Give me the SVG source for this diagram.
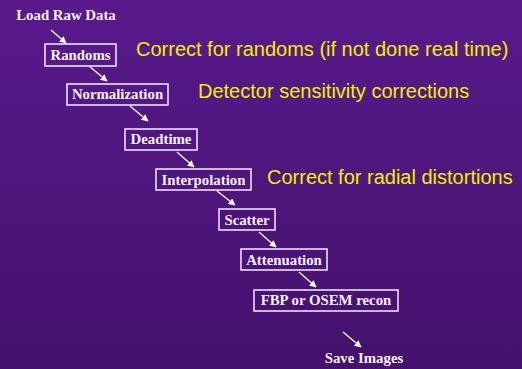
<svg xmlns="http://www.w3.org/2000/svg" width="522" height="369" viewBox="0 0 522 369">
<defs>
<linearGradient id="bg" x1="0" y1="0" x2="0" y2="1">
<stop offset="0" stop-color="#591a8c"/>
<stop offset="1" stop-color="#44116c"/>
</linearGradient>
<marker id="ah" viewBox="0 0 10 10" refX="9" refY="5" markerWidth="7" markerHeight="7" markerUnits="userSpaceOnUse" orient="auto">
<path d="M0,0 L10,5 L0,10 z" fill="#ffffff"/>
</marker>
<style>
.box{fill:none;stroke:#f4eefa;stroke-width:1.5}
.lbl{font-family:"Liberation Serif","Times New Roman",serif;font-weight:bold;font-size:14.8px;fill:#f6f0fb;text-anchor:middle}
.note{font-family:"Liberation Sans",Arial,sans-serif;font-size:20px;fill:#f2f000}
.arr{stroke:#ffffff;stroke-width:1.3;fill:none;marker-end:url(#ah)}
</style>
</defs>
<rect width="522" height="369" fill="url(#bg)"/>
<g id="connectors">
<line class="arr" x1="51" y1="30" x2="66" y2="43"/>
<line class="arr" x1="89" y1="66" x2="107" y2="81"/>
<line class="arr" x1="130" y1="106" x2="148" y2="121"/>
<line class="arr" x1="177" y1="152" x2="194" y2="167"/>
<line class="arr" x1="217" y1="191" x2="235" y2="205"/>
<line class="arr" x1="259" y1="232" x2="276" y2="247"/>
<line class="arr" x1="299" y1="272" x2="316" y2="287"/>
<line class="arr" x1="343" y1="332" x2="361" y2="347"/>
</g>
<g id="load"><text class="lbl" x="66" y="20">Load Raw Data</text></g>
<g id="randoms"><rect class="box" x="45" y="44" width="71" height="22"/><text class="lbl" x="80.5" y="60">Randoms</text></g>
<g id="normalization"><rect class="box" x="67" y="84" width="101" height="21"/><text class="lbl" x="117.5" y="99">Normalization</text></g>
<g id="deadtime"><rect class="box" x="125" y="129" width="72" height="21"/><text class="lbl" x="161" y="144">Deadtime</text></g>
<g id="interpolation"><rect class="box" x="156" y="169" width="95" height="21"/><text class="lbl" x="203.5" y="185">Interpolation</text></g>
<g id="scatter"><rect class="box" x="219" y="209" width="56" height="21"/><text class="lbl" x="247" y="225">Scatter</text></g>
<g id="attenuation"><rect class="box" x="241" y="249" width="86" height="21"/><text class="lbl" x="284" y="265">Attenuation</text></g>
<g id="recon"><rect class="box" x="254" y="290" width="144" height="21"/><text class="lbl" x="326" y="305">FBP or OSEM recon</text></g>
<g id="save"><text class="lbl" x="364" y="363">Save Images</text></g>
<g id="notes">
<text class="note" x="136" y="56">Correct for randoms (if not done real time)</text>
<text class="note" x="198" y="98">Detector sensitivity corrections</text>
<text class="note" x="267" y="184">Correct for radial distortions</text>
</g>
</svg>
